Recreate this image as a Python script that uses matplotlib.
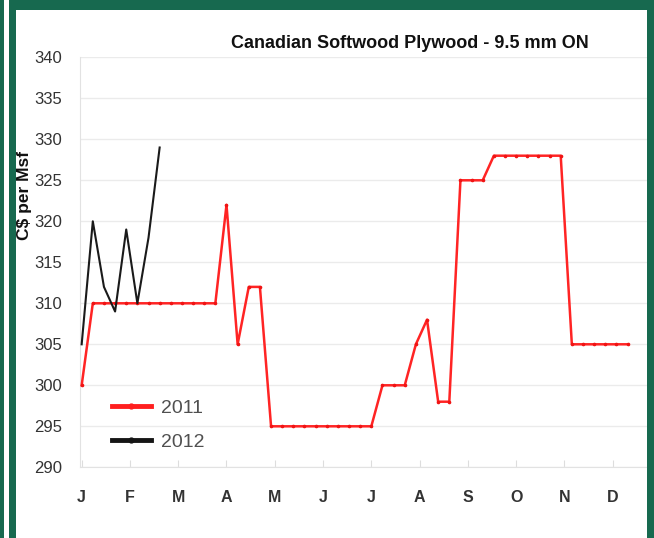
import matplotlib
matplotlib.use("Agg")
import matplotlib.pyplot as plt
from matplotlib.lines import Line2D
from matplotlib.patches import Rectangle

plt.rcParams['font.family'] = ['Liberation Sans', 'DejaVu Sans']

# Weekly prices, C$ per Msf
prices_2011 = [300] + [310] * 12 + [322, 305, 312, 312] + [295] * 10 + \
    [300, 300, 300, 305, 308, 298, 298, 325, 325, 325] + [328] * 7 + [305] * 6
prices_2012 = [305, 320, 312, 309, 319, 310, 318, 329]

month_labels = ['J', 'F', 'M', 'A', 'M', 'J', 'J', 'A', 'S', 'O', 'N', 'D']
y_ticks = list(range(290, 345, 5))

W, H = 654, 538
fig = plt.figure(figsize=(W / 100, H / 100), dpi=100)
fig.patch.set_facecolor('white')

# green frame around the chart
green = '#17694f'
for (x0, y0, w, h) in [(0, 0, 4, H), (9, 0, 7, H), (9, 0, W - 9, 10), (647, 0, 7, H)]:
    fig.patches.append(Rectangle((x0 / W, 1 - (y0 + h) / H), w / W, h / H,
                                 transform=fig.transFigure, facecolor=green,
                                 edgecolor='none', zorder=0))

ax = fig.add_axes([80 / W, 1 - 467.3 / H, 567.6 / W, 410 / H])
ax.set_facecolor('white')

weeks_2011 = list(range(len(prices_2011)))
weeks_2012 = list(range(len(prices_2012)))

ax.plot(weeks_2011, prices_2011, color='#ff2424', lw=1.8, marker='o',
        ms=1.6, mfc='#f01414', mec='#f01414', zorder=3)
ax.plot(weeks_2012, prices_2012, color='#1a1a1a', lw=1.5, zorder=4)

ax.set_xlim(-0.15, 50.8)
ax.set_ylim(290, 340)
ax.set_yticks(y_ticks)
ax.set_yticklabels([str(v) for v in y_ticks], fontsize=12, color='#333333')
ax.set_xticks([k * 52 / 12 for k in range(12)])
ax.set_xticklabels(month_labels, fontsize=11.5, fontweight='bold', color='#333333')
ax.tick_params(axis='x', direction='in', length=5, color='#dddddd', pad=16)
ax.tick_params(axis='y', length=0, pad=13)
ax.grid(axis='y', color='#ebebeb', lw=1)
ax.set_axisbelow(True)
for side in ['top', 'right']:
    ax.spines[side].set_visible(False)
for side in ['left', 'bottom']:
    ax.spines[side].set_color('#e2e2e2')

fig.text(410 / W, 1 - 44 / H, 'Canadian Softwood Plywood - 9.5 mm ON',
         ha='center', va='center', fontsize=13, fontweight='bold', color='#111111')
fig.text(25 / W, 1 - 195 / H, 'C$ per Msf', rotation=90, ha='center', va='center',
         fontsize=12.5, fontweight='bold', color='#111111')

handles = [Line2D([], [], color='#ff1f1f', lw=3.5, marker='o', ms=3.5),
           Line2D([], [], color='#151515', lw=3.5, marker='o', ms=3.5)]
leg = ax.legend(handles, ['2011', '2012'], loc='upper left',
                bbox_to_anchor=(112 / W, 1 - 399 / H), bbox_transform=fig.transFigure,
                frameon=False, fontsize=14, handlelength=2.0, handletextpad=0.5,
                labelspacing=0.85, borderpad=0, borderaxespad=0)
for t in leg.get_texts():
    t.set_color('#505050')

fig.savefig('out.png', dpi=100)
